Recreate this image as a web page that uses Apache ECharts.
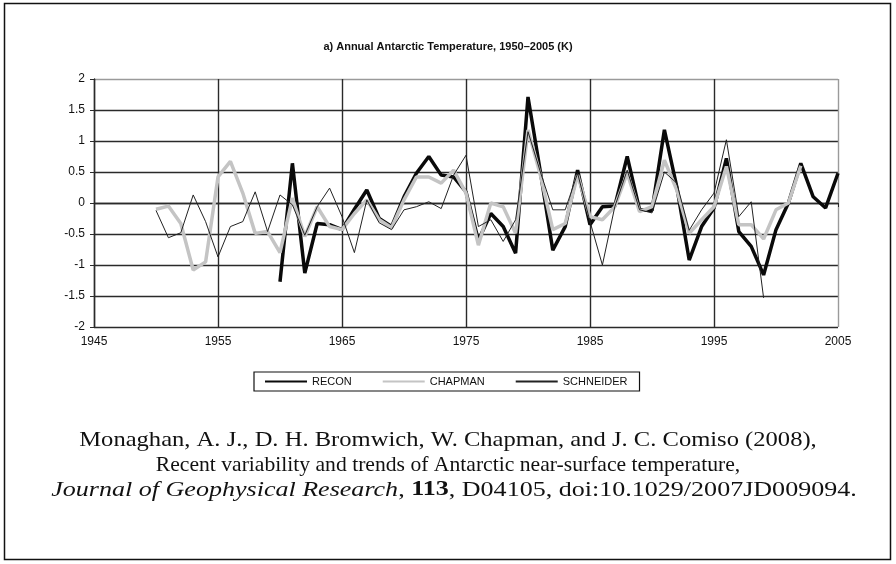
<!DOCTYPE html>
<html>
<head>
<meta charset="utf-8">
<script src="https://cdn.jsdelivr.net/npm/echarts@6/dist/echarts.min.js"></script>
<style>
html,body{margin:0;padding:0;background:#fff;}
#c{width:896px;height:564px;}
</style>
</head>
<body>
<div id="c"></div>
<script>
const titleText = 'a) Annual Antarctic Temperature, 1950–2005 (K)';
const seriesNames = ['RECON', 'CHAPMAN', 'SCHNEIDER'];
const xTicks = [1945, 1955, 1965, 1975, 1985, 1995, 2005];
const yTicks = [-2, -1.5, -1, -0.5, 0, 0.5, 1, 1.5, 2];

const reconStart = 1960;
const reconValues = [
  -1.27, 0.64, -1.13, -0.33, -0.35, -0.43, -0.1, 0.21, -0.25, -0.38,
  0.1, 0.48, 0.75, 0.45, 0.42, 0.18, -0.6, -0.17, -0.38, -0.81,
  1.71, 0.5, -0.76, -0.38, 0.53, -0.35, -0.06, -0.05, 0.75, -0.11,
  -0.12, 1.18, 0.26, -0.92, -0.38, -0.08, 0.72, -0.46, -0.7, -1.16,
  -0.43, 0.0, 0.64, 0.1, -0.08, 0.48
];

const chapmanStart = 1950;
const chapmanValues = [
  -0.1, -0.05, -0.33, -1.08, -0.95, 0.42, 0.67, 0.16, -0.49, -0.46,
  -0.8, 0.08, -0.54, -0.06, -0.38, -0.43, -0.17, 0.05, -0.27, -0.4,
  0.05, 0.42, 0.42, 0.32, 0.53, 0.16, -0.68, 0.0, -0.06, -0.49,
  1.18, 0.45, -0.43, -0.33, 0.45, -0.22, -0.27, -0.06, 0.48, -0.14,
  -0.06, 0.69, 0.21, -0.49, -0.27, -0.06, 0.59, -0.35, -0.35, -0.58,
  -0.11, 0.0, 0.6
];

const schneiderStart = 1950;
const schneiderValues = [
  -0.12, -0.56, -0.48, 0.13, -0.3, -0.87, -0.38, -0.3, 0.18, -0.46,
  0.13, -0.03, -0.52, -0.06, 0.24, -0.22, -0.8, 0.05, -0.32, -0.43,
  -0.11, -0.06, 0.02, -0.09, 0.45, 0.77, -0.38, -0.27, -0.62, -0.27,
  1.15, 0.5, -0.11, -0.11, 0.48, -0.3, -1.0, -0.06, 0.53, -0.11,
  -0.16, 0.5, 0.32, -0.44, -0.11, 0.16, 1.02, -0.22, 0.02, -1.53
];

const citation1 = 'Monaghan, A. J., D. H. Bromwich, W. Chapman, and J. C. Comiso (2008),';
const citation2 = 'Recent variability and trends of Antarctic near-surface temperature,';
const citationJournal = 'Journal of Geophysical Research';
const citationVolume = '113';
const citationRest = ', D04105, doi:10.1029/2007JD009094.';

function pairs(start, vals) {
  return vals.map((v, i) => [start + i, v]);
}

const chart = echarts.init(document.getElementById('c'), null, {renderer: 'canvas'});
const sans = 'Liberation Sans, Arial, sans-serif';
const serif = 'Liberation Serif, Times New Roman, serif';
const gridDark = '#2a2a2a';
const gridLight = '#9a9a9a';

chart.setOption({
  animation: false,
  backgroundColor: '#fff',
  title: {
    text: titleText,
    left: 'center',
    top: 36,
    textStyle: {fontFamily: sans, fontSize: 11, fontWeight: 'bold', color: '#111'}
  },
  grid: {left: 94, right: 58, top: 79, bottom: 237, containLabel: false},
  xAxis: {
    type: 'value',
    min: xTicks[0],
    max: xTicks[xTicks.length - 1],
    interval: 10,
    axisLine: {show: true, lineStyle: {color: gridDark, width: 1.4}},
    axisTick: {show: true, length: 4, inside: false, lineStyle: {color: gridDark}},
    axisLabel: {margin: 9, fontFamily: sans, fontSize: 12, color: '#111',
      formatter: v => xTicks.includes(v) ? String(v) : ''},
    splitLine: {show: true, lineStyle: {
      color: xTicks.map((t, i) => i === xTicks.length - 1 ? gridLight : gridDark), width: 1.4}}
  },
  yAxis: {
    type: 'value',
    min: yTicks[0],
    max: yTicks[yTicks.length - 1],
    interval: 0.5,
    axisLine: {show: true, lineStyle: {color: gridDark, width: 1.4}},
    axisTick: {show: true, length: 4, inside: false, lineStyle: {color: gridDark}},
    axisLabel: {margin: 9, fontFamily: sans, fontSize: 12, color: '#111',
      formatter: v => String(v)},
    splitLine: {show: true, lineStyle: {
      color: yTicks.map((t, i) => i === yTicks.length - 1 ? gridLight : gridDark), width: 1.4}}
  },
  legend: {
    data: seriesNames,
    left: 254,
    top: 372,
    itemWidth: 42,
    itemHeight: 10,
    itemGap: 30,
    padding: [4, 12, 4, 10],
    borderColor: '#111',
    borderWidth: 1.2,
    itemStyle: {opacity: 0},
    textStyle: {fontFamily: sans, fontSize: 11, color: '#111'}
  },
  series: [
    {name: seriesNames[0], type: 'line', data: pairs(reconStart, reconValues),
      symbol: 'none', lineStyle: {color: '#0a0a0a', width: 3.5}, itemStyle: {color: '#0a0a0a'}, z: 2},
    {name: seriesNames[1], type: 'line', data: pairs(chapmanStart, chapmanValues),
      symbol: 'none', lineStyle: {color: '#c4c4c4', width: 3.5}, itemStyle: {color: '#c4c4c4'}, z: 3},
    {name: seriesNames[2], type: 'line', data: pairs(schneiderStart, schneiderValues),
      symbol: 'none', lineStyle: {color: '#222', width: 1}, itemStyle: {color: '#222'}, z: 4}
  ],
  graphic: [
    {type: 'rect', shape: {x: 4.5, y: 3.5, width: 886, height: 556},
      style: {fill: null, stroke: '#111', lineWidth: 1.5}, silent: true, z: 100},
    {type: 'text', x: 448, y: 440, scaleX: 1.17,
      style: {text: citation1, font: '21px ' + serif, fill: '#111', align: 'center', verticalAlign: 'middle'}},
    {type: 'text', x: 448, y: 465, scaleX: 1.03,
      style: {text: citation2, font: '21px ' + serif, fill: '#111', align: 'center', verticalAlign: 'middle'}},
    {type: 'text', x: 454, y: 490, scaleX: 1.24,
      style: {
        text: '{i|' + citationJournal + '}{n|, }{b|' + citationVolume + '}{n|' + citationRest + '}',
        align: 'center', verticalAlign: 'middle',
        rich: {
          i: {fontFamily: serif, fontSize: 21, fontStyle: 'italic', fill: '#111', color: '#111'},
          n: {fontFamily: serif, fontSize: 21, fill: '#111', color: '#111'},
          b: {fontFamily: serif, fontSize: 21, fontWeight: 'bold', fill: '#111', color: '#111'}
        }
      }}
  ]
});
</script>
</body>
</html>
